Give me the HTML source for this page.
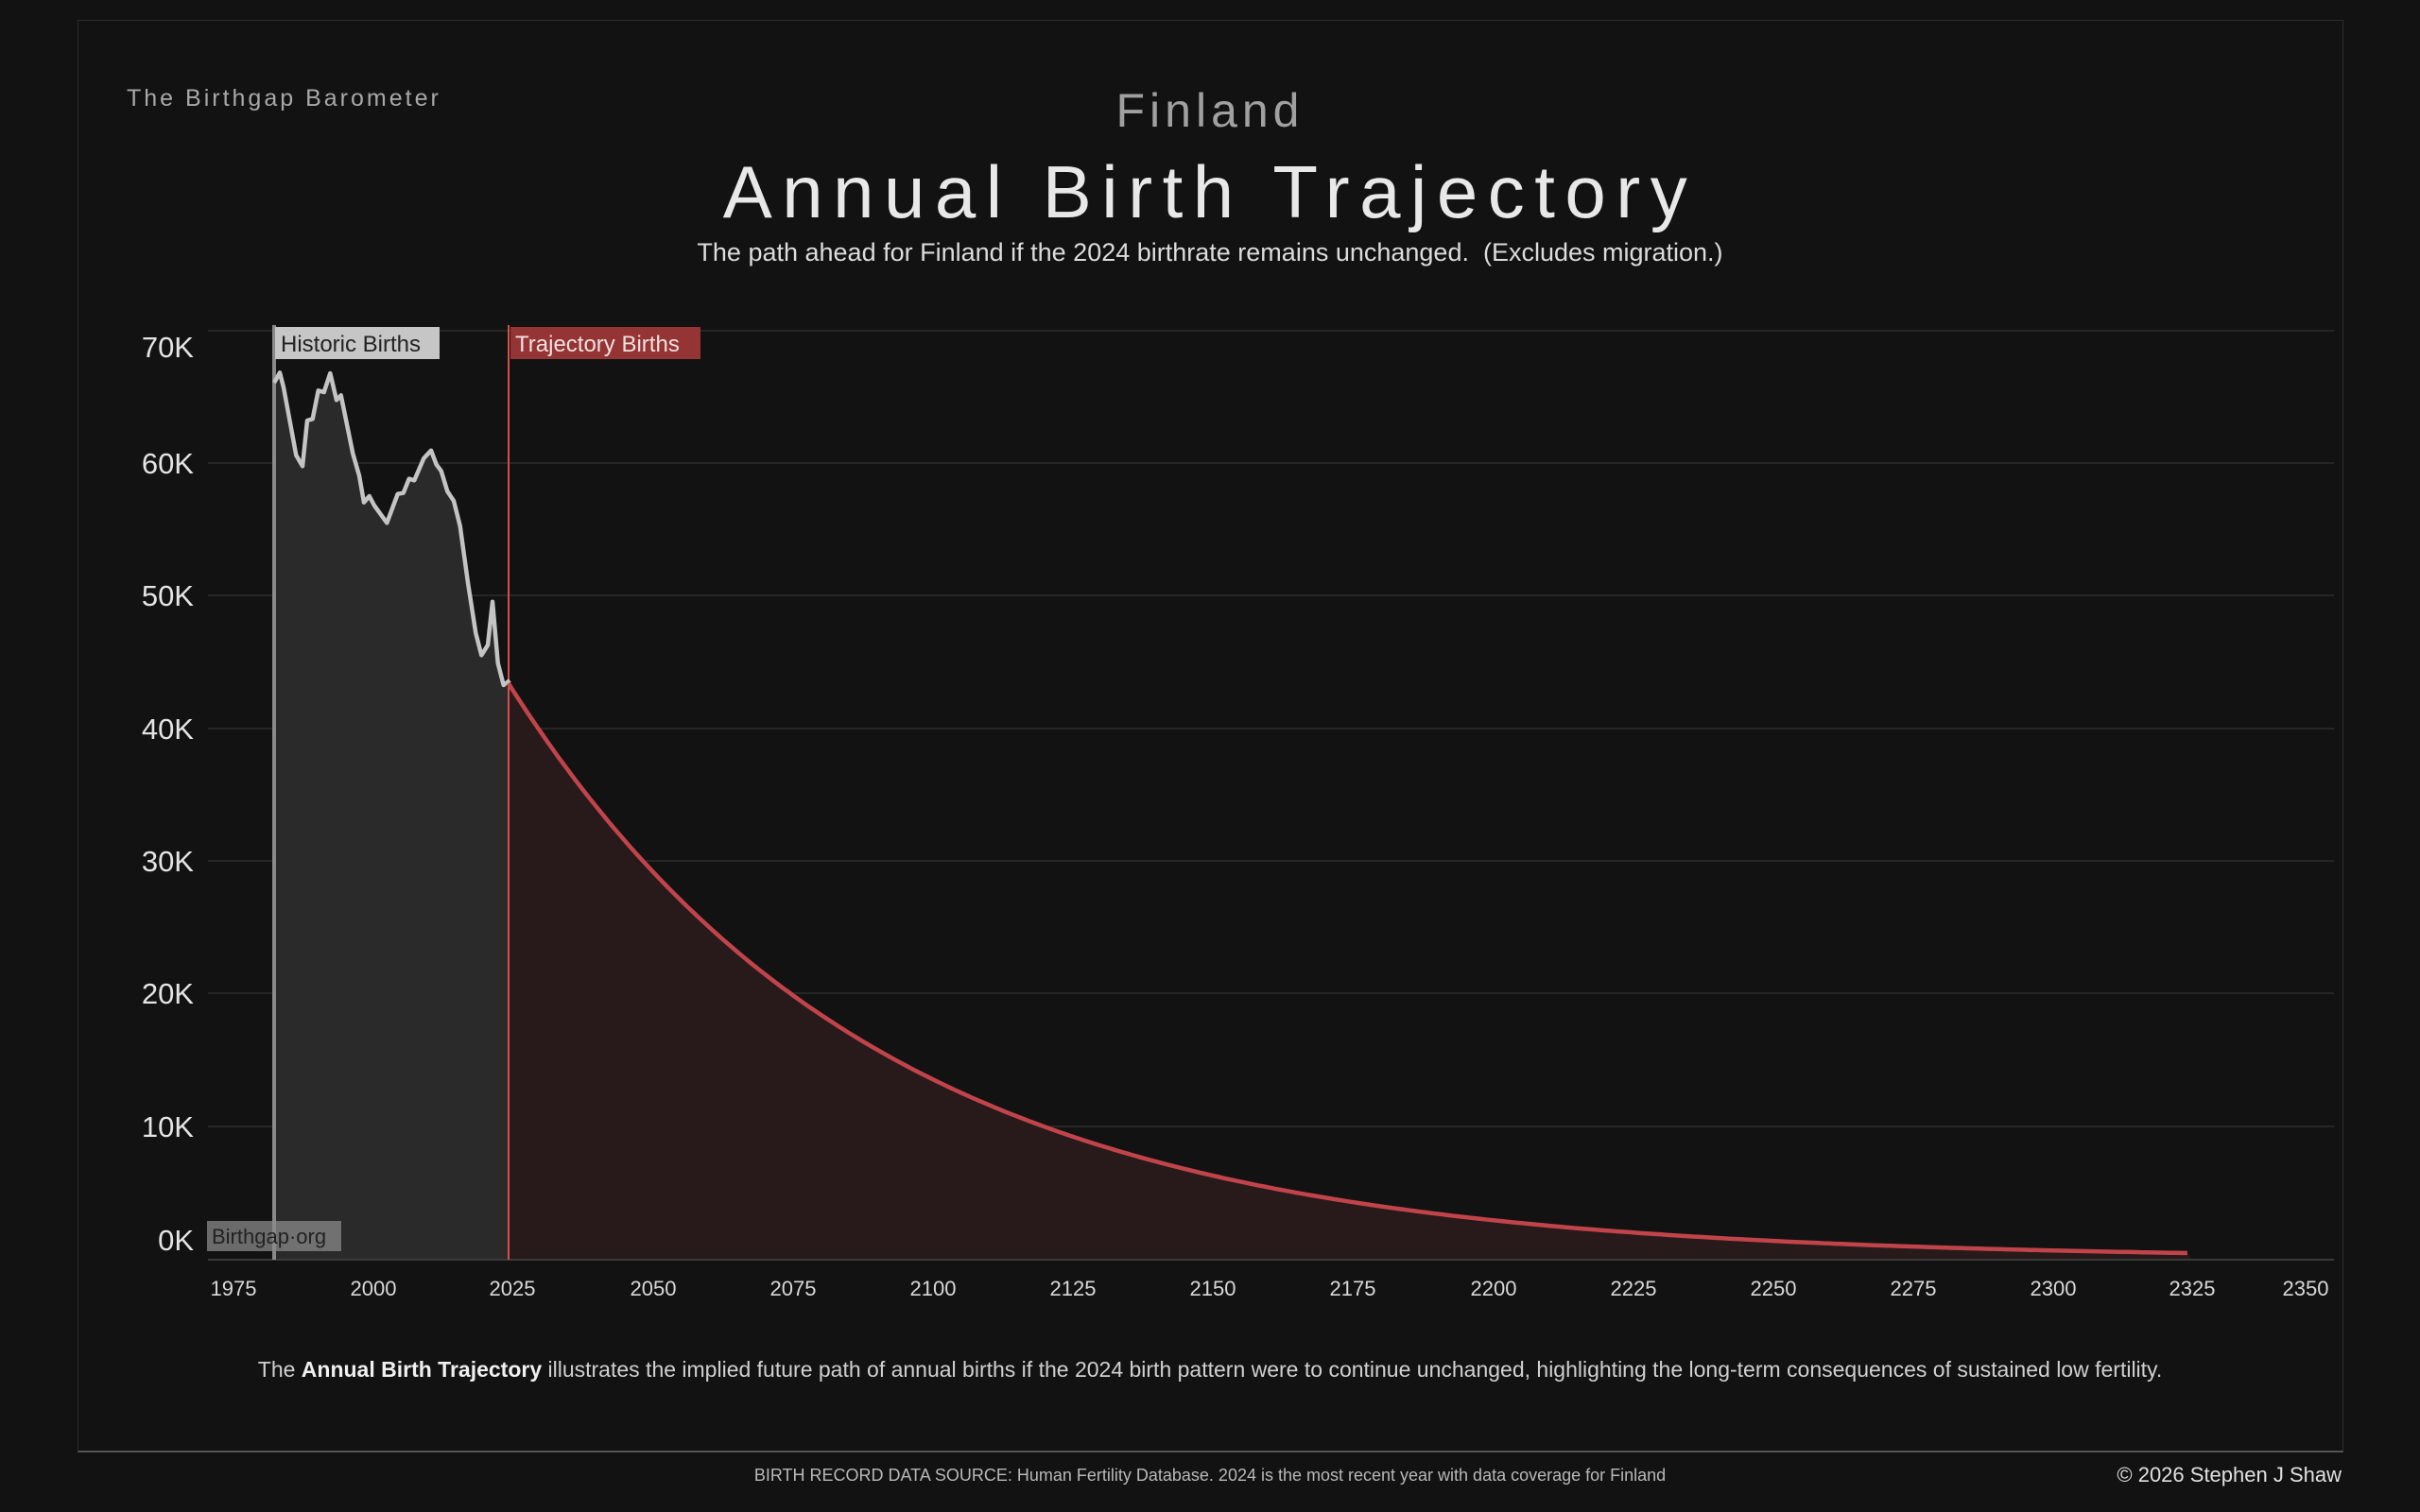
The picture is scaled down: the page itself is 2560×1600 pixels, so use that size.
<!DOCTYPE html>
<html><head><meta charset="utf-8"><style>
html,body{margin:0;padding:0;background:#121212;}
body{width:2560px;height:1600px;position:relative;overflow:hidden;font-family:"Liberation Sans","DejaVu Sans",sans-serif;}
.t{position:absolute;white-space:nowrap;}
</style></head><body>
<div style="position:absolute;left:82px;top:21px;width:2397px;height:1516px;border:1px solid #2c2c2c;border-bottom:2px solid #555;box-sizing:border-box;"></div>
<div class="t" style="left:134px;top:90px;font-size:25px;color:#a8a8a8;letter-spacing:3px;">The Birthgap Barometer</div>
<div class="t" style="left:0;width:2560px;text-align:center;top:88px;font-size:50px;color:#a0a0a0;letter-spacing:5px;">Finland</div>
<div class="t" style="left:0;width:2560px;text-align:center;top:158px;font-size:78px;color:#e8e8e8;letter-spacing:10.5px;">Annual Birth Trajectory</div>
<div class="t" style="left:0;width:2560px;text-align:center;top:252px;font-size:27px;color:#dcdcdc;">The path ahead for Finland if the 2024 birthrate remains unchanged.&nbsp; (Excludes migration.)</div>
<svg width="2560" height="1600" style="position:absolute;left:0;top:0">
<g stroke="#262626" stroke-width="2">
<line x1="220" x2="2469" y1="350" y2="350"/><line x1="220" x2="2469" y1="490" y2="490"/>
<line x1="220" x2="2469" y1="630" y2="630"/><line x1="220" x2="2469" y1="771" y2="771"/>
<line x1="220" x2="2469" y1="911" y2="911"/><line x1="220" x2="2469" y1="1051" y2="1051"/>
<line x1="220" x2="2469" y1="1192" y2="1192"/>
</g>
<polygon fill="#2a2a2a" points="290,1332 290,405 296,394.3 300,410 313.3,481.7 320,493.3 325,445 330.7,443.3 336.7,413.3 342.7,415 349.3,395 356,423.3 360.7,418.3 373.3,480 380,503.3 385,531.7 390.7,525 396,535 409.3,553.3 420.7,522.7 426.7,521.7 432.7,506.7 438.3,508.3 448.3,485 456,476.7 461.7,491.7 466.7,498.3 473.3,520 480,530 486.7,556.7 495,616.7 503.3,670 509.3,693.3 516,682.7 521,636.7 526.7,701.7 532.7,725 539.3,720 539.3,1332"/>
<path id="tf" fill="#281a1a" d=""/>
<line x1="220" x2="2469" y1="1333" y2="1333" stroke="#3a3a3a" stroke-width="2"/>
<line x1="290" x2="290" y1="344" y2="1333" stroke="#8a8a8a" stroke-width="4"/>
<line x1="538" x2="538" y1="344" y2="1333" stroke="#d05050" stroke-width="2"/>
<polyline fill="none" stroke="#c4c4c4" stroke-width="4.5" stroke-linejoin="round" points="290,405 296,394.3 300,410 313.3,481.7 320,493.3 325,445 330.7,443.3 336.7,413.3 342.7,415 349.3,395 356,423.3 360.7,418.3 373.3,480 380,503.3 385,531.7 390.7,525 396,535 409.3,553.3 420.7,522.7 426.7,521.7 432.7,506.7 438.3,508.3 448.3,485 456,476.7 461.7,491.7 466.7,498.3 473.3,520 480,530 486.7,556.7 495,616.7 503.3,670 509.3,693.3 516,682.7 521,636.7 526.7,701.7 532.7,725 539.3,720"/>
<path id="tl" fill="none" stroke="#c0444a" stroke-width="4.5" d=""/>
<rect x="291" y="346" width="174" height="34" fill="#c6c6c6"/>
<text x="297" y="372" font-size="24" fill="#222" font-family="Liberation Sans,sans-serif">Historic Births</text>
<rect x="540" y="346" width="201" height="34" fill="#953434"/>
<text x="545" y="372" font-size="24" fill="#f0e0e0" font-family="Liberation Sans,sans-serif">Trajectory Births</text>
<rect x="219" y="1292" width="142" height="32" fill="#8a8a8a" fill-opacity="0.75"/>
<text x="224" y="1316" font-size="22" fill="#222" font-family="Liberation Sans,sans-serif">Birthgap·org</text>
<g font-size="31" fill="#e4e4e4" text-anchor="end" font-family="Liberation Sans,sans-serif">
<text x="205" y="378">70K</text><text x="205" y="501">60K</text><text x="205" y="641">50K</text>
<text x="205" y="782">40K</text><text x="205" y="922">30K</text><text x="205" y="1062">20K</text>
<text x="205" y="1203">10K</text><text x="205" y="1323">0K</text>
</g>
<g font-size="22" fill="#d8d8d8" text-anchor="middle" font-family="Liberation Sans,sans-serif">
<text x="247" y="1371">1975</text><text x="395" y="1371">2000</text><text x="542" y="1371">2025</text>
<text x="691" y="1371">2050</text><text x="839" y="1371">2075</text><text x="987" y="1371">2100</text>
<text x="1135" y="1371">2125</text><text x="1283" y="1371">2150</text><text x="1431" y="1371">2175</text>
<text x="1580" y="1371">2200</text><text x="1728" y="1371">2225</text><text x="1876" y="1371">2250</text>
<text x="2024" y="1371">2275</text><text x="2172" y="1371">2300</text><text x="2319" y="1371">2325</text>
<text x="2439" y="1371">2350</text>
</g>
</svg>
<div class="t" style="left:0;width:2560px;text-align:center;top:1436px;font-size:23px;color:#d0d0d0;">The <b style="color:#f0f0f0">Annual Birth Trajectory</b> illustrates the implied future path of annual births if the 2024 birth pattern were to continue unchanged, highlighting the long-term consequences of sustained low fertility.</div>
<div class="t" style="left:0;width:2560px;text-align:center;top:1551px;font-size:18px;color:#b8b8b8;">BIRTH RECORD DATA SOURCE: Human Fertility Database. 2024 is the most recent year with data coverage for Finland</div>
<div class="t" style="right:83px;top:1548px;font-size:22px;color:#e0e0e0;">© 2026 Stephen J Shaw</div>
<script>
var d="",f="";
for(var yr=2024.3;yr<=2325.01;yr+=1){
 var x=542+(yr-2025)*5.92, v=43.4*Math.exp(-0.01537*(yr-2024.3));
 var y=1332-v*14.03;
 d+=(d?"L":"M")+x.toFixed(1)+","+y.toFixed(1);
}
var x0=542+(2024.3-2025)*5.92, x1=542+300*5.92;
document.getElementById("tl").setAttribute("d",d);
document.getElementById("tf").setAttribute("d",d+"L"+x1.toFixed(1)+",1332L"+x0.toFixed(1)+",1332Z");
</script>
</body></html>
